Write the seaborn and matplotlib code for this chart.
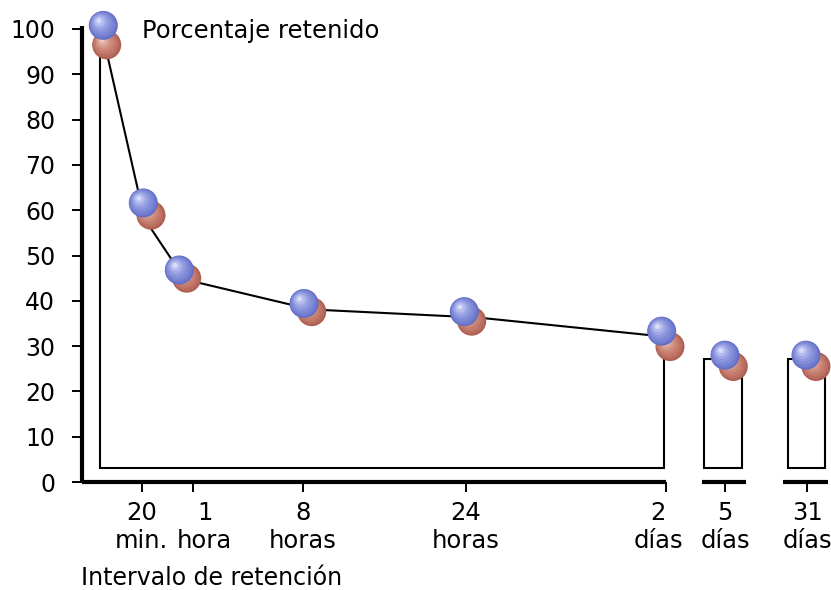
import matplotlib
matplotlib.use("Agg")
import matplotlib.pyplot as plt
import matplotlib.transforms as mtransforms
import seaborn as sns

# ---------------- data ----------------
intervalos = ["20\nmin.", "1\nhora", "8\nhoras", "24\nhoras", "2\ndías", "5\ndías", "31\ndías"]
pos_intervalos = [59.7, 110.7, 220.7, 383.7, 584, 643, 725.3]

curva_x = [23, 62.5, 103, 228.8, 396, 582]
curva_y = [96.5, 58.1, 44.7, 38.1, 36.3, 32.1]

bola_azul_x = [21.3, 61.3, 97.3, 222, 382.3, 579.7, 643, 724]
bola_azul_y = [100.8, 61.6, 46.8, 39.4, 37.6, 33.3, 28.0, 28.0]
bola_roja_x = [24.7, 69, 104.7, 229.7, 389.7, 588, 651.3, 734]
bola_roja_y = [96.5, 58.9, 45.0, 37.6, 35.5, 29.9, 25.5, 25.5]

caja_izq = [622.3, 706.3]
caja_der = [659.7, 743]
caja_alto = [27.1, 27.1]
marco_izq = 18
marco_base = 3.0

eje_tramos = [(619.7, 664), (701.3, 746.3)]
yticks = [0, 10, 20, 30, 40, 50, 60, 70, 80, 90, 100]

titulo = "Porcentaje retenido"
xlabel = "Intervalo de retención"

# label nudges (pixels) for the x tick labels, as in the original artwork
desplaz_etiquetas = [0, 12, 0, 0, -8, 0, 0]

# ---------------- figure ----------------
sns.set_theme(style="white")
plt.rcParams['font.family'] = ['DejaVu Sans']

W, H = 831, 590
fig = plt.figure(figsize=(W / 100, H / 100), dpi=100)
ax = fig.add_axes([82 / W, 1 - 482 / H, 749 / W, 453 / H])
ax.set_xlim(0, 749)
ax.set_ylim(0, 100)
ax.set_facecolor("white")

FS_Y = 17
FS = 17.5
THICK = 3.0
THIN = 1.5

for s in ["top", "right"]:
    ax.spines[s].set_visible(False)
for s in ["left", "bottom"]:
    ax.spines[s].set_linewidth(THICK)
    ax.spines[s].set_color("black")
    ax.spines[s].set_capstyle("butt")
ax.spines["left"].set_bounds(0, 100.6)
ax.spines["bottom"].set_bounds(0, pos_intervalos[4])

for a, b in eje_tramos:
    ax.plot([a, b], [0, 0], color="black", lw=THICK, solid_capstyle="butt",
            clip_on=False, zorder=3)

ax.set_yticks(yticks)
ax.set_yticklabels([str(v) for v in yticks])
ax.set_xticks(pos_intervalos)
ax.set_xticklabels(intervalos, linespacing=1.25)
ax.tick_params(axis="y", direction="out", length=7.2, width=1.4, pad=12,
               labelsize=FS_Y, colors="black", left=True)
ax.tick_params(axis="x", direction="out", length=7.5, width=1.4, pad=6,
               labelsize=FS, colors="black", bottom=True)
for lab, dx in zip(ax.get_xticklabels(), desplaz_etiquetas):
    lab.set_transform(lab.get_transform() +
                      mtransforms.ScaledTranslation(dx / 100, 0, fig.dpi_scale_trans))

# inner frame
ax.plot([marco_izq, marco_izq, curva_x[-1], curva_x[-1]],
        [99, marco_base, marco_base, curva_y[-1]],
        color="black", lw=THIN, zorder=2, solid_joinstyle="miter")
for l, r, t in zip(caja_izq, caja_der, caja_alto):
    ax.plot([r, r, l, l, r], [t, marco_base, marco_base, t, t],
            color="black", lw=THIN, zorder=2, solid_joinstyle="miter")

# retention curve
sns.lineplot(x=curva_x, y=curva_y, color="black", lw=THIN, ax=ax,
             sort=False, estimator=None, zorder=2)

# 3D-looking balls (layered shading)
capas_roja = [
    (29, 0, 0, "#AC5E50"),
    (27, -0.5, 0.5, "#B56759"),
    (25, -1.0, 1.0, "#BC7061"),
    (22, -1.6, 1.7, "#C47B6C"),
    (18, -2.4, 2.6, "#CC8878"),
    (14, -3.2, 3.4, "#D49889"),
    (10, -3.8, 4.0, "#DDAC9F"),
    (5, -4.3, 4.6, "#EAC8BE"),
]
capas_azul = [
    (29, 0, 0, "#636EC6"),
    (27, -0.5, 0.5, "#6D78CC"),
    (25, -1.0, 1.0, "#7681D2"),
    (22, -1.6, 1.7, "#818CD8"),
    (18, -2.4, 2.6, "#8F99DF"),
    (14, -3.2, 3.4, "#A0A9E6"),
    (10, -3.8, 4.0, "#B6BDEE"),
    (5, -4.3, 4.6, "#D8DCF7"),
]


def bolas(xs, ys, capas, z):
    for i, (d, dx, dy, col) in enumerate(capas):
        tr = mtransforms.offset_copy(ax.transData, fig=fig, x=dx, y=dy, units="dots")
        sns.scatterplot(x=xs, y=ys, s=(d * 0.72) ** 2, color=col, edgecolor="none",
                        linewidth=0, transform=tr, ax=ax, legend=False,
                        clip_on=False, zorder=z + i * 0.01)


bolas(bola_roja_x, bola_roja_y, capas_roja, 4)
bolas(bola_azul_x, bola_azul_y, capas_azul, 5)

ax.set_xlabel("")
ax.set_ylabel("")
ax.text(60, 98.0, titulo, fontsize=FS, color="black", va="baseline", ha="left")
fig.text(81 / W, 1 - 585 / H, xlabel, fontsize=17, color="black",
         ha="left", va="baseline")

fig.savefig("out.png", dpi=100, facecolor="white")
